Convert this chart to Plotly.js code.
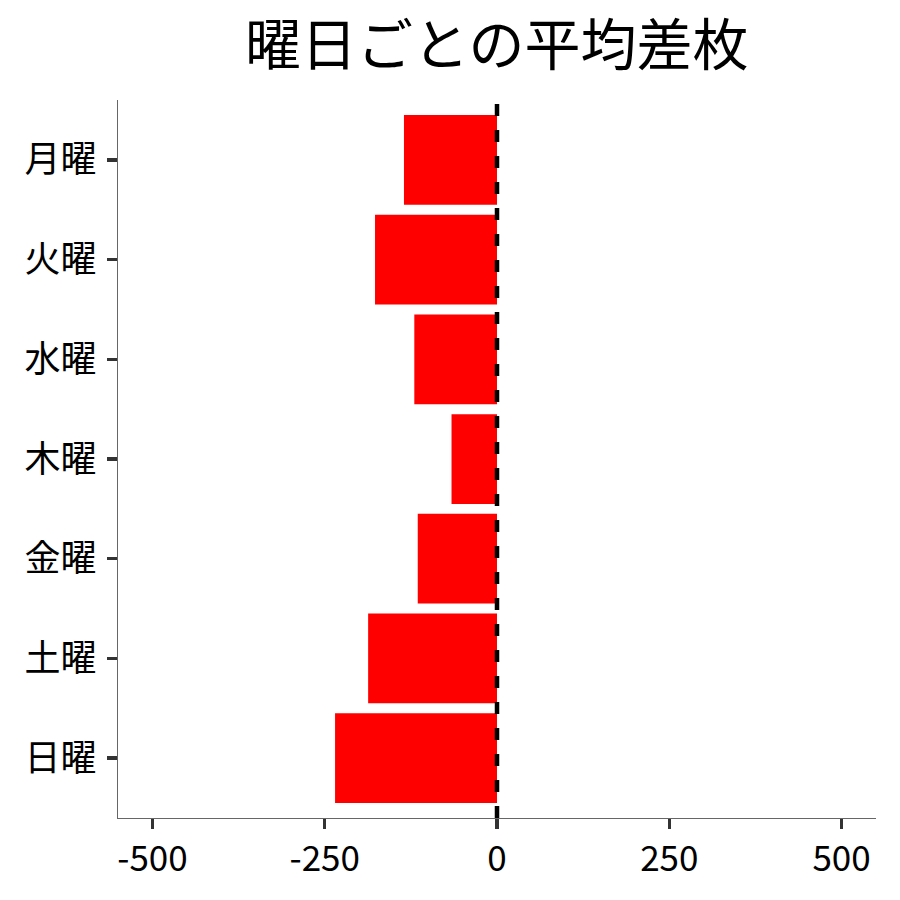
<!DOCTYPE html>
<html>
<head>
<meta charset="utf-8">
<script src="https://cdn.plot.ly/plotly-3.0.1.min.js"></script>
<style>
  html, body { margin: 0; padding: 0; background: #fff; }
  #chart { width: 900px; height: 900px; }
</style>
</head>
<body>
<div id="chart"></div>
<script>
// weekday labels, top to bottom
const weekdays = ['月曜', '火曜', '水曜', '木曜', '金曜', '土曜', '日曜'];
// average difference per weekday
const avgDiff = [-135, -177, -120, -66, -115, -187, -235];
const xTicks = [-500, -250, 0, 250, 500];

const font = '"Noto Sans CJK JP", "Noto Sans", sans-serif';

const bars = {
  type: 'bar',
  orientation: 'h',
  y: weekdays,
  x: avgDiff,
  width: 0.9,
  marker: { color: '#FF0000', line: { width: 0 } },
  hoverinfo: 'x+y',
};

const layout = {
  width: 900,
  height: 900,
  margin: { l: 118, r: 24, t: 100, b: 82 },
  paper_bgcolor: '#fff',
  plot_bgcolor: '#fff',
  showlegend: false,
  font: { family: font, color: '#000' },
  title: {
    text: '曜日ごとの平均差枚',
    font: { family: font, size: 56, color: '#000' },
    x: 0.552, xanchor: 'center',
    y: 0.95, yanchor: 'middle',
  },
  xaxis: {
    range: [-550, 550],
    tickvals: xTicks,
    ticktext: xTicks.map(String),
    showgrid: false,
    zeroline: false,
    showline: true,
    linecolor: '#666',
    linewidth: 1.2,
    ticks: 'outside',
    ticklen: 10,
    tickwidth: 3.5,
    tickcolor: '#333',
    tickfont: { family: font, size: 35, color: '#000' },
  },
  yaxis: {
    type: 'category',
    categoryorder: 'array',
    categoryarray: weekdays,
    autorange: false,
    range: [6.6, -0.6],
    showgrid: false,
    zeroline: false,
    showline: true,
    linecolor: '#666',
    linewidth: 1.2,
    ticks: 'outside',
    ticklen: 10,
    tickwidth: 3.5,
    tickcolor: '#333',
    ticklabelstandoff: 3,
    tickfont: { family: font, size: 36, color: '#000' },
  },
  shapes: [{
    type: 'line',
    xref: 'x', yref: 'paper',
    x0: 0, x1: 0, y0: 0, y1: 1,
    line: { color: '#000', width: 4.5, dash: '12px,14px' },
    layer: 'above',
  }],
};

Plotly.newPlot('chart', [bars], layout, { displayModeBar: false, staticPlot: true });
</script>
</body>
</html>
